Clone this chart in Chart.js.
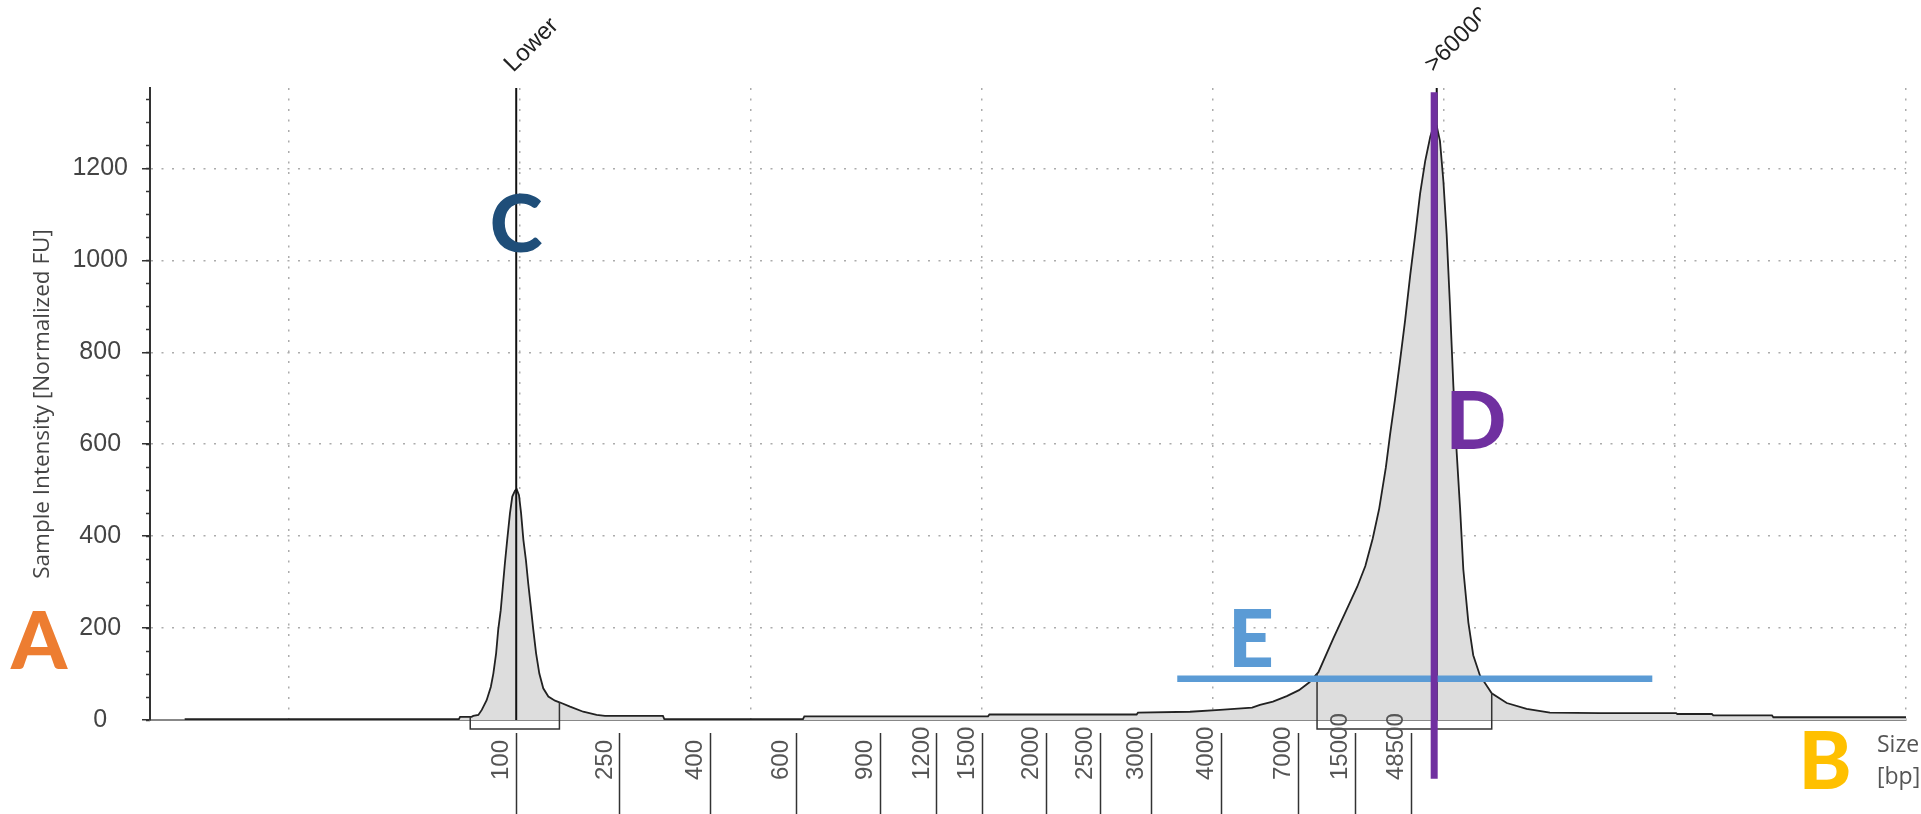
<!DOCTYPE html>
<html>
<head>
<meta charset="utf-8">
<script src="https://cdn.jsdelivr.net/npm/chart.js@4.4.0/dist/chart.umd.min.js"></script>
<style>
  html, body { margin: 0; padding: 0; background: #fff; }
  #wrap { width: 1921px; height: 814px; }
</style>
</head>
<body>
<div id="wrap"><canvas id="trace" width="1921" height="814"></canvas></div>
<script>
// trace: migration position (gridline units) and sample intensity [FU]
const traceX = [0.55, 1.737, 1.742, 1.792, 1.799, 1.821, 1.836, 1.857, 1.875, 1.886, 1.898, 1.907, 1.918, 1.927,
  1.936, 1.946, 1.958, 1.968, 1.980, 1.987, 1.997, 2.006, 2.016, 2.027, 2.037, 2.048, 2.059, 2.071, 2.085,
  2.102, 2.124, 2.153, 2.175, 2.218, 2.275, 2.333, 2.369, 2.620, 2.626, 3.226, 3.232, 4.027, 4.033, 4.670,
  4.676, 4.901, 5.031, 5.170, 5.204, 5.260, 5.320, 5.373, 5.418, 5.457, 5.521, 5.586, 5.625, 5.660, 5.692, 5.720,
  5.749, 5.767, 5.789, 5.810, 5.832, 5.854, 5.876, 5.897, 5.919, 5.941, 5.954, 5.969, 5.983, 5.998, 6.012,
  6.026, 6.041, 6.055, 6.070, 6.084, 6.106, 6.127, 6.156, 6.207, 6.272, 6.358, 6.459, 6.676, 7.005, 7.010,
  7.160, 7.166, 7.420, 7.426, 8.0];
const traceY = [2, 2, 7, 7, 9, 11, 22, 43, 72, 101, 145, 196, 239, 290,
  341, 392, 450, 486, 499, 502, 489, 450, 392, 348, 297, 247, 196, 145, 101,
  69, 51, 42, 38, 29, 18, 11, 9, 9, 2, 2, 8, 8, 12, 12,
  16, 18, 22, 27, 33, 40, 52, 65, 82, 104, 177, 248, 290, 335, 395, 460,
  550, 621, 700, 781, 869, 967, 1056, 1145, 1216, 1269, 1290, 1292, 1260, 1171, 1056,
  905, 727, 585, 461, 328, 212, 141, 97, 58, 37, 24, 16, 15, 15, 13,
  13, 10, 10, 6, 6];

// size ladder
const ladderSizes = ["100", "250", "400", "600", "900", "1200", "1500", "2000", "2500", "3000", "4000", "7000", "15000", "48500"];
const ladderPos = [1.985, 2.434, 2.824, 3.196, 3.560, 3.806, 4.001, 4.278, 4.512, 4.733, 5.038, 5.369, 5.616, 5.858];

const yMajorTicks = [0, 200, 400, 600, 800, 1000, 1200];
const yMinorStep = 50;
const gridPos = [1, 2, 3, 4, 5, 6, 7, 8];

// peak markers and integration regions
const markerNames = ["Lower", ">60000"];
const markerPos = [1.985, 5.969];
const regionFrom = [1.786, 5.451];
const regionTo = [2.172, 6.207];

// overlay annotations
const letterText = ["A", "B", "C", "D", "E"];
const letterX = [-0.08, 7.65, 1.984, 6.139, 5.165];
const letterY = [174, -87, 1081, 653, 178];
const letterColor = ["#ED7D31", "#FFC000", "#1F4E79", "#7030A0", "#5B9BD5"];

const annot = {
  purple: { x: 5.958, yFrom: 1366, yTo: -128, color: "#7030A0", width: 7 },
  blue: { y: 90, xFrom: 4.846, xTo: 6.902, color: "#5B9BD5", width: 6.5 }
};

const X_MIN = 0.4, X_MAX = 8, Y_MAX = 1375;

function traceValueAt(u) {
  for (let i = 1; i < traceX.length; i++) {
    if (traceX[i] >= u) {
      const t = (u - traceX[i - 1]) / (traceX[i] - traceX[i - 1]);
      return traceY[i - 1] + t * (traceY[i] - traceY[i - 1]);
    }
  }
  return 0;
}

const overlay = {
  id: "overlay",
  afterDraw(chart) {
    const { ctx, chartArea, scales } = chart;
    const xs = scales.x, ys = scales.y;
    const y0 = ys.getPixelForValue(0);
    ctx.save();

    // peak marker lines
    ctx.strokeStyle = "#111";
    ctx.lineWidth = 2;
    markerPos.forEach(u => {
      const px = xs.getPixelForValue(u);
      ctx.beginPath();
      ctx.moveTo(px, chartArea.top);
      ctx.lineTo(px, y0);
      ctx.stroke();
    });

    // region brackets
    ctx.strokeStyle = "#333";
    ctx.lineWidth = 1.5;
    regionFrom.forEach((a, i) => {
      const b = regionTo[i];
      const pa = xs.getPixelForValue(a), pb = xs.getPixelForValue(b);
      ctx.beginPath();
      ctx.moveTo(pa, ys.getPixelForValue(traceValueAt(a)));
      ctx.lineTo(pa, y0 + 9);
      ctx.lineTo(pb, y0 + 9);
      ctx.lineTo(pb, ys.getPixelForValue(traceValueAt(b)));
      ctx.stroke();
    });

    // marker names (the last one is cut off in the original)
    ctx.fillStyle = "#222";
    ctx.font = "24px 'Liberation Sans', Arial, sans-serif";
    ctx.textAlign = "left";
    ctx.textBaseline = "alphabetic";
    markerNames.forEach((name, i) => {
      const mx = xs.getPixelForValue(markerPos[i]);
      ctx.save();
      if (i === markerNames.length - 1) {
        ctx.beginPath();
        ctx.rect(0, 0, mx + 44, chartArea.top);
        ctx.clip();
      }
      ctx.translate(mx - 3, chartArea.top - 15);
      ctx.rotate(-Math.PI / 4);
      ctx.fillText(name, 0, 0);
      ctx.restore();
    });

    // ladder labels
    const ls = scales.ladder;
    ctx.fillStyle = "#555";
    ctx.font = "24px 'Liberation Sans', Arial, sans-serif";
    ctx.textBaseline = "middle";
    ladderSizes.forEach((s, i) => {
      ctx.save();
      ctx.translate(ls.getPixelForValue(ladderPos[i]) - 15, y0 + 60);
      ctx.rotate(-Math.PI / 2);
      ctx.fillText(s, 0, 0);
      ctx.restore();
    });

    // axis unit
    ctx.fillStyle = "#555";
    ctx.font = "23px 'Open Sans', sans-serif";
    ctx.fillText("Size", chartArea.right - 29, y0 + 25);
    ctx.fillText("[bp]", chartArea.right - 29, y0 + 57);

    // highlight lines
    const b = annot.blue;
    ctx.strokeStyle = b.color;
    ctx.lineWidth = b.width;
    ctx.beginPath();
    ctx.moveTo(xs.getPixelForValue(b.xFrom), ys.getPixelForValue(b.y));
    ctx.lineTo(xs.getPixelForValue(b.xTo), ys.getPixelForValue(b.y));
    ctx.stroke();
    const p = annot.purple;
    ctx.strokeStyle = p.color;
    ctx.lineWidth = p.width;
    ctx.beginPath();
    ctx.moveTo(xs.getPixelForValue(p.x), ys.getPixelForValue(p.yFrom));
    ctx.lineTo(xs.getPixelForValue(p.x), ys.getPixelForValue(p.yTo));
    ctx.stroke();

    // letters
    const size = 80;
    ctx.font = "900 " + size + "px Lato, 'Open Sans', sans-serif";
    ctx.textAlign = "center";
    ctx.textBaseline = "alphabetic";
    letterText.forEach((t, i) => {
      ctx.fillStyle = letterColor[i];
      ctx.fillText(t, xs.getPixelForValue(letterX[i]), ys.getPixelForValue(letterY[i]) + size * 0.36);
    });

    ctx.restore();
  }
};

const dotted = "#acacac";

new Chart(document.getElementById("trace"), {
  type: "line",
  data: {
    datasets: [{
      data: traceX.map((u, i) => ({ x: u, y: traceY[i] })),
      borderColor: "#222",
      borderWidth: 1.8,
      backgroundColor: "#dddddd",
      fill: "origin",
      pointRadius: 0,
      tension: 0
    }]
  },
  options: {
    responsive: false,
    animation: false,
    layout: { padding: { top: 88, right: 15, left: 0, bottom: 0 } },
    plugins: { legend: { display: false }, tooltip: { enabled: false } },
    scales: {
      x: {
        type: "linear",
        position: "bottom",
        weight: 0,
        min: X_MIN, max: X_MAX,
        afterBuildTicks: s => { s.ticks = gridPos.map(v => ({ value: v })); },
        afterFit: s => { s.height = 13; },
        ticks: { display: false },
        grid: { color: dotted, lineWidth: 1.5, drawTicks: false },
        border: { display: true, color: "#888", width: 2, dash: [2, 8.5] }
      },
      ladder: {
        type: "linear",
        position: "bottom",
        weight: 1,
        min: X_MIN, max: X_MAX,
        afterBuildTicks: s => { s.ticks = ladderPos.map(v => ({ value: v })); },
        afterFit: s => { s.height = 81; },
        ticks: { display: false },
        grid: { drawOnChartArea: false, drawTicks: true, tickLength: 81, tickColor: "#333", tickWidth: 1.5, tickBorderDash: [] },
        border: { display: false }
      },
      y: {
        position: "left",
        weight: 1,
        min: 0, max: Y_MAX,
        afterBuildTicks: s => { s.ticks = yMajorTicks.map(v => ({ value: v })); },
        afterFit: s => { s.width = 150; },
        ticks: {
          color: "#444",
          font: { family: "'Liberation Sans', Arial, sans-serif", size: 25 },
          crossAlign: "center",
          padding: 14,
          callback: v => String(v)
        },
        title: {
          display: true,
          text: "Sample Intensity [Normalized FU]",
          color: "#444",
          font: { family: "'Open Sans', sans-serif", size: 22.5 },
          padding: { top: 29, bottom: 0 }
        },
        grid: {
          color: c => (c.tick && c.tick.value === 0) ? "rgba(0,0,0,0)" : dotted,
          lineWidth: 1.5,
          tickLength: 8,
          tickColor: "#333",
          tickWidth: 1.5,
          tickBorderDash: []
        },
        border: { display: true, color: "#333", width: 2, dash: [2, 8.5] }
      },
      yMinor: {
        position: "left",
        weight: 0,
        min: 0, max: Y_MAX,
        afterBuildTicks: s => {
          const t = [];
          for (let v = 0; v <= Y_MAX; v += yMinorStep) t.push({ value: v });
          s.ticks = t;
        },
        afterFit: s => { s.width = 0; },
        ticks: { display: false },
        grid: { drawOnChartArea: false, tickLength: 4, tickColor: "#333", tickWidth: 1.5, tickBorderDash: [] },
        border: { display: false }
      }
    }
  },
  plugins: [overlay]
});
</script>
</body>
</html>
